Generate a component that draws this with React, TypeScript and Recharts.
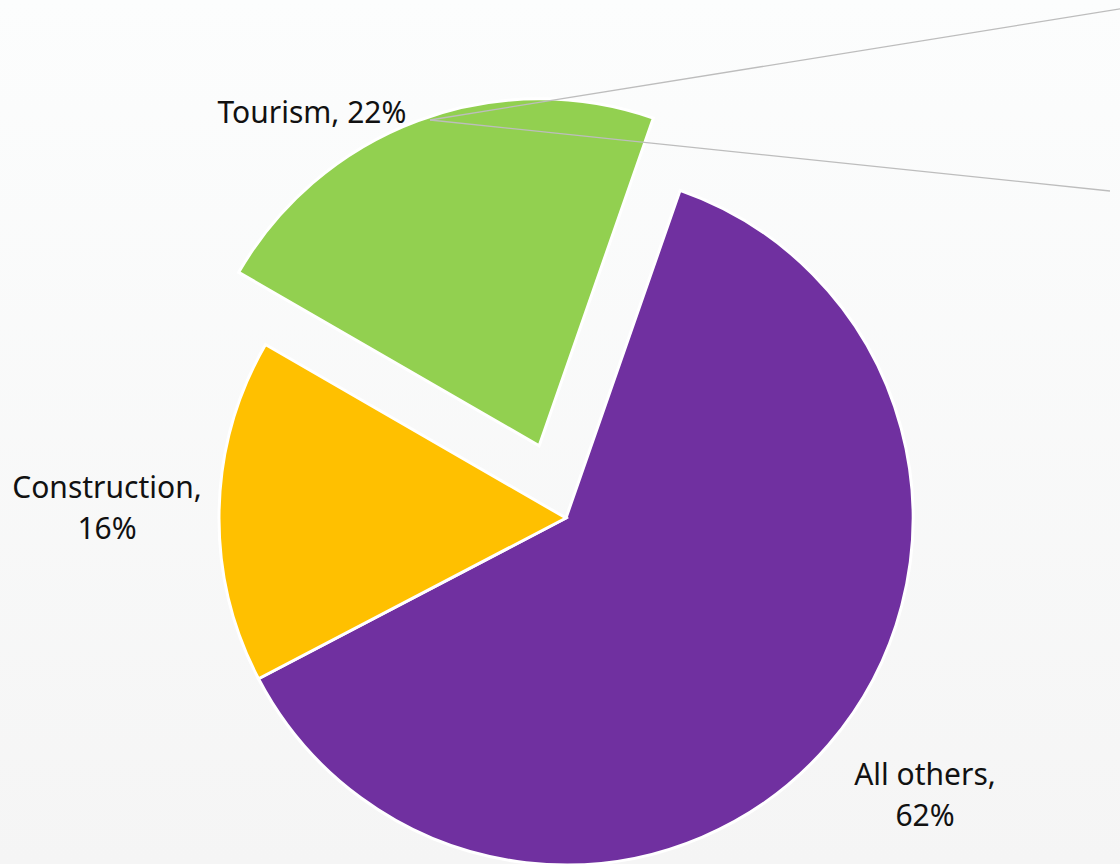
import { PieChart, Pie, Cell } from "recharts"

// share of total, in percent
const sectors = ["All others", "Construction", "Tourism"]
const shares = [62, 16, 22]
const colors = ["#7030A0", "#FFC000", "#92D050"]

const data = sectors.map((name, i) => ({ name, value: shares[i] }))

const W = 1120
const H = 864
const CX = 566
const CY = 518
const R = 347
const START = 70.8
const EXPLODE = "Tourism"
const EXPLODE_DIST = 77

// label anchor points (text baseline, centred)
const labelPos: Record<string, { x: number; y: number; split: boolean }> = {
  "All others": { x: 925, y: 785, split: true },
  Construction: { x: 107, y: 498, split: true },
  Tourism: { x: 312, y: 123, split: false },
}

// mid angle of the exploded slice, from the data
const total = shares.reduce((a, b) => a + b, 0)
const expIdx = sectors.indexOf(EXPLODE)
const before = shares.slice(0, expIdx).reduce((a, b) => a + b, 0)
const midDeg = START - ((before + shares[expIdx] / 2) / total) * 360
const ex = CX + EXPLODE_DIST * Math.cos((midDeg * Math.PI) / 180)
const ey = CY - EXPLODE_DIST * Math.sin((midDeg * Math.PI) / 180)

const FONT = "'Segoe UI', 'Noto Sans', 'Open Sans', sans-serif"

function renderLabel(props: any) {
  const name = props.name ?? props.payload?.name
  const pos = labelPos[name]
  if (!pos) return null
  const pct = Math.round((props.value / total) * 100) + "%"
  return (
    <g key={name}>
      {name === EXPLODE && (
        <>
          <line x1={430} y1={120} x2={1126} y2={8} stroke="#bdbdbd" strokeWidth={1.3} />
          <line x1={430} y1={120} x2={1110} y2={191} stroke="#bdbdbd" strokeWidth={1.3} />
        </>
      )}
      <text
        x={pos.x}
        y={pos.y}
        textAnchor="middle"
        fill="#111"
        fontSize={30}
        fontFamily={FONT}
      >
        {pos.split ? (
          <>
            <tspan x={pos.x}>{name},</tspan>
            <tspan x={pos.x} dy={41}>{pct}</tspan>
          </>
        ) : (
          `${name}, ${pct}`
        )}
      </text>
    </g>
  )
}

export default function App() {
  return (
    <div
      style={{
        position: "absolute",
        left: 0,
        top: 0,
        width: W,
        height: H,
        background: "linear-gradient(#fcfdfd, #f5f5f5)",
      }}
    >
      <PieChart width={W} height={H} margin={{ top: 0, right: 0, bottom: 0, left: 0 }}>
        <Pie
          data={data}
          dataKey="value"
          nameKey="name"
          cx={ex}
          cy={ey}
          outerRadius={R}
          startAngle={START}
          endAngle={START - 360}
          isAnimationActive={false}
          label={false}
          labelLine={false}
        >
          {data.map((d, i) => (
            <Cell
              key={d.name}
              fill={d.name === EXPLODE ? colors[i] : "none"}
              stroke={d.name === EXPLODE ? "#fff" : "none"}
              strokeWidth={3}
            />
          ))}
        </Pie>
        <Pie
          data={data}
          dataKey="value"
          nameKey="name"
          cx={CX}
          cy={CY}
          outerRadius={R}
          startAngle={START}
          endAngle={START - 360}
          isAnimationActive={false}
          label={renderLabel}
          labelLine={false}
        >
          {data.map((d, i) => (
            <Cell
              key={d.name}
              fill={d.name === EXPLODE ? "none" : colors[i]}
              stroke={d.name === EXPLODE ? "none" : "#fff"}
              strokeWidth={3}
            />
          ))}
        </Pie>
      </PieChart>
    </div>
  )
}
